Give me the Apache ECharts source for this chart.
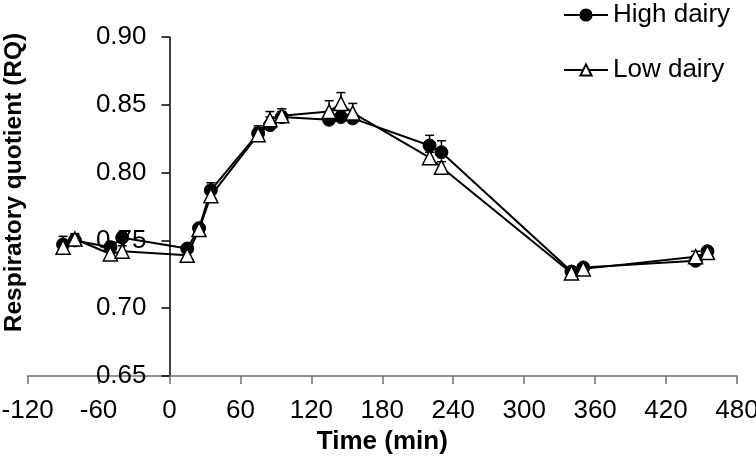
<!DOCTYPE html>
<html>
<head>
<meta charset="utf-8">
<script src="https://cdn.jsdelivr.net/npm/echarts@6/dist/echarts.min.js"></script>
<style>html,body{margin:0;padding:0;background:#fff;}#c{width:756px;height:470px;}</style>
</head>
<body>
<div id="c"></div>
<script>
// Time points (min)
const times = [-90, -80, -50, -40, 15, 25, 35, 75, 85, 95, 135, 145, 155, 220, 230, 340, 350, 445, 455];
// High dairy RQ means
const highDairy = [0.747, 0.750, 0.745, 0.752, 0.744, 0.759, 0.787, 0.829, 0.835, 0.841, 0.839, 0.841, 0.840, 0.820, 0.815, 0.727, 0.730, 0.735, 0.742];
// High dairy SEM (upper bars)
const highErr = [0.006, 0.004, 0.004, 0.004, 0.003, 0.003, 0.0055, 0.004, 0.006, 0.004, 0.003, 0.004, 0.003, 0.0075, 0.0085, 0.003, 0.003, 0.003, 0.003];
// Low dairy RQ means
const lowDairy = [0.745, 0.751, 0.740, 0.742, 0.739, 0.758, 0.783, 0.828, 0.839, 0.842, 0.845, 0.851, 0.844, 0.811, 0.804, 0.726, 0.729, 0.738, 0.741];
// Low dairy SEM (upper bars)
const lowErr = [0.004, 0.004, 0.004, 0.004, 0.003, 0.003, 0.004, 0.0065, 0.006, 0.005, 0.008, 0.008, 0.007, 0.004, 0.004, 0.003, 0.003, 0.004, 0.003];
// Axis ticks
const xTicks = [-120, -60, 0, 60, 120, 180, 240, 300, 360, 420, 480];
const yTicks = [0.65, 0.70, 0.75, 0.80, 0.85, 0.90];

const FONT = '"Liberation Sans", Arial, sans-serif';
const GRID_LEFT = 27.6, GRID_RIGHT = 19;
const GRID_W = 756 - GRID_LEFT - GRID_RIGHT;
// y axis crosses the x axis at time 0
const yAxisShift = -GRID_W * (0 - xTicks[0]) / (xTicks[xTicks.length - 1] - xTicks[0]);

function pairs(vals) { return times.map((t, i) => [t, vals[i]]); }
function errData(vals, errs) { return times.map((t, i) => [t, vals[i], errs[i]]); }

function errRender(params, api) {
  const x = api.value(0), y = api.value(1), e = api.value(2);
  const p0 = api.coord([x, y]);
  const p1 = api.coord([x, y + e]);
  const st = { stroke: '#000', lineWidth: 1.5 };
  return {
    type: 'group',
    children: [
      { type: 'line', shape: { x1: p0[0], y1: p0[1], x2: p1[0], y2: p1[1] }, style: st },
      { type: 'line', shape: { x1: p1[0] - 4.5, y1: p1[1], x2: p1[0] + 4.5, y2: p1[1] }, style: st }
    ]
  };
}

const chart = echarts.init(document.getElementById('c'), null, { renderer: 'canvas' });
chart.setOption({
  animation: false,
  backgroundColor: '#fff',
  textStyle: { fontFamily: FONT, color: '#000' },
  grid: { left: GRID_LEFT, right: GRID_RIGHT, top: 37, bottom: 94, containLabel: false, outerBoundsMode: 'none' },
  legend: {
    orient: 'vertical',
    left: 563,
    top: 2,
    padding: 0,
    itemWidth: 44,
    itemHeight: 14,
    itemGap: 29,
    data: ['High dairy', 'Low dairy'],
    textStyle: { fontFamily: FONT, fontSize: 26, color: '#000' }
  },
  xAxis: {
    type: 'value',
    min: xTicks[0],
    max: xTicks[xTicks.length - 1],
    interval: 60,
    name: 'Time (min)',
    nameLocation: 'middle',
    nameGap: 53,
    nameTextStyle: { fontFamily: FONT, fontSize: 26, fontWeight: 'bold', color: '#000' },
    axisLine: { onZero: false, lineStyle: { color: '#6e6e6e', width: 1.5 } },
    axisTick: { show: true, inside: false, length: 8, lineStyle: { color: '#6e6e6e', width: 1.5 } },
    axisLabel: { fontFamily: FONT, fontSize: 26, color: '#000', margin: 22 },
    splitLine: { show: false }
  },
  yAxis: {
    type: 'value',
    min: yTicks[0],
    max: yTicks[yTicks.length - 1],
    interval: 0.05,
    offset: yAxisShift,
    name: 'Respiratory quotient (RQ)',
    nameLocation: 'middle',
    nameGap: 143,
    nameTextStyle: { fontFamily: FONT, fontSize: 24.5, fontWeight: 'bold', color: '#000', padding: [0, 0, 0, 48] },
    axisLine: { onZero: false, lineStyle: { color: '#000', width: 1.5 } },
    axisTick: { show: true, inside: false, length: 8, lineStyle: { color: '#000', width: 1.5 } },
    axisLabel: { fontFamily: FONT, fontSize: 26, color: '#000', margin: 23, formatter: v => v.toFixed(2) },
    splitLine: { show: false }
  },
  series: [
    {
      name: 'High dairy err', type: 'custom', renderItem: errRender,
      data: errData(highDairy, highErr), z: 1, encode: { x: 0, y: 1 }, silent: true
    },
    {
      name: 'Low dairy err', type: 'custom', renderItem: errRender,
      data: errData(lowDairy, lowErr), z: 1, encode: { x: 0, y: 1 }, silent: true
    },
    {
      name: 'High dairy', type: 'line', data: pairs(highDairy), z: 3,
      symbol: 'circle', symbolSize: 13, showAllSymbol: true,
      lineStyle: { color: '#000', width: 2 },
      itemStyle: { color: '#000', borderColor: '#000', borderWidth: 1 }
    },
    {
      name: 'Low dairy', type: 'line', data: pairs(lowDairy), z: 4,
      symbol: 'triangle', symbolSize: 14, showAllSymbol: true,
      lineStyle: { color: '#000', width: 2 },
      itemStyle: { color: '#fff', borderColor: '#000', borderWidth: 1.5 }
    }
  ]
});
</script>
</body>
</html>
